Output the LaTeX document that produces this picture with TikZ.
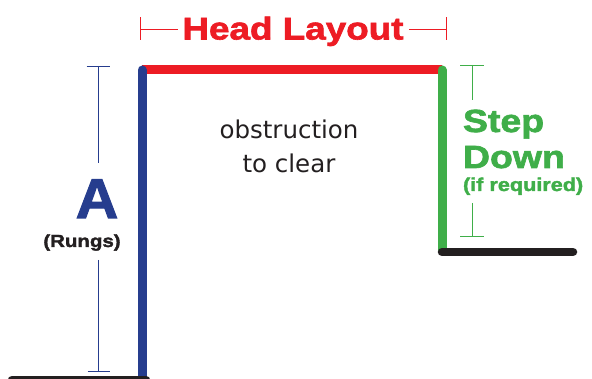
\documentclass[tikz,border=0pt]{standalone}
\usepackage{fontspec}
\setmainfont{DejaVu Sans}
\newfontfamily\heavyfont[FakeStretch=1.17,FakeBold=2]{Liberation Sans Bold}
\newfontfamily\lightfont{DejaVu Sans}
\definecolor{cblue}{RGB}{38,61,142}
\definecolor{cred}{RGB}{237,28,36}
\definecolor{cgreen}{RGB}{63,174,73}
\definecolor{cblack}{RGB}{35,31,32}
\begin{document}
\begin{tikzpicture}[x=1pt,y=-1pt,
  wall/.style={line width=9pt,line cap=round},
  floor/.style={line width=8.5pt,line cap=round,draw=cblack},
  dimline/.style={line width=0.9pt},
  lbl/.style={inner sep=0pt,outer sep=0pt},
]
\useasboundingbox (0,0) rectangle (592,379);
% coordinates
\coordinate (tl) at (142,70);
\coordinate (tr) at (442,70);
\coordinate (bl) at (142,385);
\coordinate (gr) at (442,250);
\coordinate (f1a) at (12,380);
\coordinate (f1b) at (146,380);
\coordinate (f2a) at (442,252);
\coordinate (f2b) at (573,252);
% walls
\draw[wall,cred,line cap=butt] (tl) -- (tr);
\draw[wall,cblue] (tl) -- (bl);
\draw[wall,cgreen] (tr) -- (gr);
\draw[floor] (f1a) -- (f1b);
\draw[floor] (f2a) -- (f2b);
% Head layout dimension
\node[lbl,text=cred,anchor=base] (head) at (293,39.5) {\heavyfont\fontsize{31.5}{31.5}\selectfont Head Layout};
\coordinate (hl) at (140,29);
\coordinate (hla) at (178,29);
\coordinate (hr) at (446,29);
\coordinate (hra) at (409,29);
\coordinate (hlt) at (140,17.5);
\coordinate (hlb) at (140,40.5);
\coordinate (hrt) at (446,17.5);
\coordinate (hrb) at (446,40.5);
\draw[dimline,cred] (hl) -- (hla) (hra) -- (hr) (hlt) -- (hlb) (hrt) -- (hrb);
% A dimension
\node[lbl,text=cblue,anchor=base] (A) at (97,218) {\heavyfont\fontsize{56}{56}\selectfont\scalebox{0.9}[1]{A}};
\node[lbl,text=cblack,anchor=base] (rungs) at (82,247) {\heavyfont\fontsize{17.5}{17.5}\selectfont (Rungs)};
\coordinate (at) at (98,66);
\coordinate (am1) at (98,163);
\coordinate (am2) at (98,260);
\coordinate (ab) at (98,371);
\coordinate (atl) at (86.5,66);
\coordinate (atr) at (109.5,66);
\coordinate (abl) at (87.5,371);
\coordinate (abr) at (109.5,371);
\draw[dimline,cblue] (at) -- (am1) (am2) -- (ab) (atl) -- (atr) (abl) -- (abr);
% Step down
\node[lbl,text=cgreen,anchor=base west] (step) at (463,132) {\heavyfont\fontsize{32}{32}\selectfont Step};
\node[lbl,text=cgreen,anchor=base west] (down) at (463,168) {\heavyfont\fontsize{32}{32}\selectfont Down};
\node[lbl,text=cgreen,anchor=base west] (ifreq) at (463,191) {\heavyfont\fontsize{18.5}{18.5}\selectfont (if required)};
\coordinate (gt) at (472,65);
\coordinate (gm1) at (472,100);
\coordinate (gm2) at (472,203);
\coordinate (gb) at (472,236);
\coordinate (gtl) at (460,65);
\coordinate (gtr) at (484,65);
\coordinate (gbl) at (460,236);
\coordinate (gbr) at (484,236);
\draw[dimline,cgreen] (gt) -- (gm1) (gm2) -- (gb) (gtl) -- (gtr) (gbl) -- (gbr);
% obstruction
\node[lbl,text=cblack,anchor=base] (obs1) at (289,139) {\lightfont\fontsize{24.5}{24.5}\selectfont obstruction};
\node[lbl,text=cblack,anchor=base] (obs2) at (289,173) {\lightfont\fontsize{24.5}{24.5}\selectfont to clear};
\end{tikzpicture}
\end{document}
